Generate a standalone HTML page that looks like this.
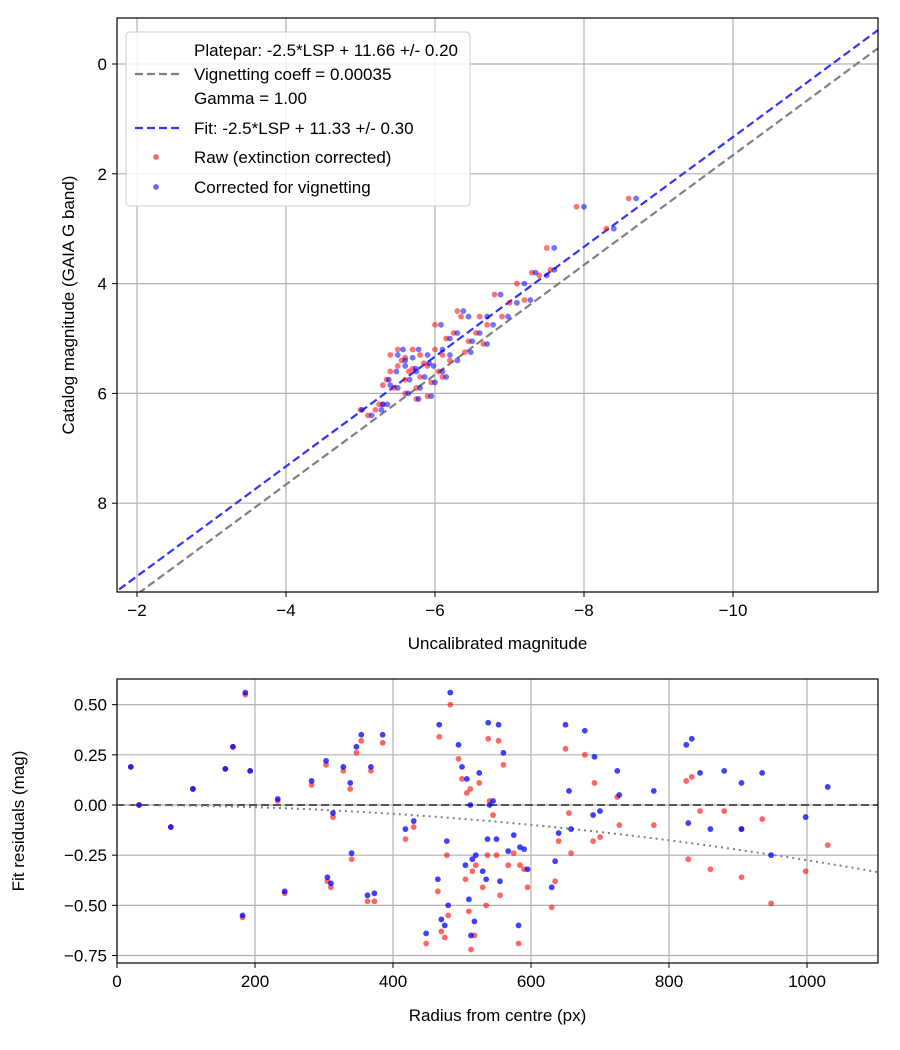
<!DOCTYPE html>
<html><head><meta charset="utf-8">
<style>
body{margin:0;background:#fff;}
svg{display:block;font-family:"Liberation Sans","DejaVu Sans",sans-serif;}
</style></head>
<body>
<svg id="c" width="900" height="1050" viewBox="0 0 900 1050"></svg>
<script>
// ---- top chart data ----
const catMag = [6.3,6.4,6.3,6.2,5.85,5.75,5.3,5.6,5.9,5.5,5.2,5.4,5.35,5.75,5.6,5.2,5.55,5.9,5.3,5.7,5.45,6.05,5.5,5.8,5.2,4.75,5.6,5.3,5.0,5.4,4.9,4.5,4.6,5.25,5.05,4.9,4.6,5.1,4.75,4.2,4.6,4.35,4.0,4.3,3.8,3.85,3.35,3.75,2.6,3.0,2.45,6.2,6.0,5.7,6.1];
const rawMag = [-5.0,-5.1,-5.2,-5.25,-5.3,-5.35,-5.4,-5.4,-5.45,-5.5,-5.5,-5.55,-5.6,-5.6,-5.65,-5.7,-5.7,-5.75,-5.8,-5.8,-5.85,-5.9,-5.9,-5.95,-6.0,-6.0,-6.05,-6.1,-6.15,-6.2,-6.25,-6.3,-6.35,-6.4,-6.45,-6.55,-6.6,-6.65,-6.7,-6.8,-6.9,-7.0,-7.1,-7.2,-7.3,-7.4,-7.5,-7.55,-7.9,-8.3,-8.6,-5.3,-5.6,-6.1,-5.75];
const corrMag = [-5.02,-5.15,-5.28,-5.3,-5.4,-5.38,-5.5,-5.48,-5.5,-5.6,-5.57,-5.6,-5.7,-5.66,-5.75,-5.78,-5.74,-5.8,-5.9,-5.86,-5.92,-5.95,-5.98,-6.0,-6.1,-6.08,-6.1,-6.2,-6.2,-6.3,-6.3,-6.38,-6.45,-6.48,-6.5,-6.6,-6.7,-6.7,-6.78,-6.88,-6.98,-7.1,-7.2,-7.28,-7.35,-7.5,-7.6,-7.6,-8.0,-8.4,-8.7,-5.36,-5.64,-6.15,-5.78];
const topXTicks = [-2,-4,-6,-8,-10];
const topYTicks = [0,2,4,6,8];
const platepar = 11.66, fitZP = 11.33;
// ---- bottom chart data ----
const radius = [20,32,78,110,157,168,182,186,193,233,243,282,303,305,310,313,328,338,340,347,354,363,368,373,385,418,430,448,465,467,470,475,478,480,483,495,500,505,507,510,512,513,515,518,520,525,530,535,537,538,540,545,550,553,555,560,567,575,582,584,590,595,630,635,640,650,655,658,678,690,692,700,725,728,778,825,828,833,845,860,880,905,905,935,948,998,1030];
const resRaw = [0.19,0.0,-0.11,0.08,0.18,0.29,-0.56,0.55,0.17,0.02,-0.44,0.10,0.20,-0.38,-0.41,-0.06,0.17,0.08,-0.27,0.26,0.32,-0.48,0.17,-0.48,0.31,-0.17,-0.11,-0.69,-0.43,0.34,-0.63,-0.66,-0.25,-0.55,0.50,0.23,0.13,-0.37,0.06,-0.53,0.08,-0.72,-0.33,-0.65,-0.30,0.11,-0.41,-0.50,-0.25,0.33,0.02,-0.05,-0.25,0.32,-0.45,0.20,-0.30,-0.24,-0.69,-0.30,-0.32,-0.41,-0.51,-0.38,-0.18,0.28,-0.04,-0.24,0.25,-0.18,0.11,-0.16,0.04,-0.10,-0.10,0.12,-0.27,0.14,-0.03,-0.32,-0.03,-0.36,-0.12,-0.07,-0.49,-0.33,-0.20];
const resCorr = [0.19,0.0,-0.11,0.08,0.18,0.29,-0.55,0.56,0.17,0.03,-0.43,0.12,0.22,-0.36,-0.39,-0.04,0.19,0.11,-0.24,0.29,0.35,-0.45,0.19,-0.44,0.35,-0.12,-0.08,-0.64,-0.37,0.40,-0.57,-0.60,-0.18,-0.50,0.56,0.30,0.19,-0.30,0.13,-0.47,0.00,-0.65,-0.27,-0.58,-0.25,0.16,-0.33,-0.37,-0.17,0.41,0.00,0.02,-0.17,0.40,-0.38,0.26,-0.23,-0.15,-0.60,-0.21,-0.22,-0.32,-0.41,-0.28,-0.14,0.40,0.07,-0.12,0.37,-0.05,0.24,-0.03,0.17,0.05,0.07,0.30,-0.09,0.33,0.16,-0.12,0.17,-0.12,0.11,0.16,-0.25,-0.06,0.09];
const botXTicks = [0,200,400,600,800,1000];
const botYTicks = [0.5,0.25,0,-0.25,-0.5,-0.75];
const botYLabels = ["0.50","0.25","0.00","\u22120.25","\u22120.50","\u22120.75"];
const vigCoeff = 2.75e-7;

const svg = document.getElementById('c');
const NS = 'http://www.w3.org/2000/svg';
function mk(tag, attrs, parent){const e=document.createElementNS(NS,tag);for(const k in attrs)e.setAttribute(k,attrs[k]);(parent||svg).appendChild(e);return e;}
function txt(s, attrs, parent){const e=mk('text',attrs,parent);e.textContent=s;return e;}
const minus = v => (v<0?'\u2212':'')+Math.abs(v);
const PR = 2.9;

// ---- top axes ----
const T = {l:117,r:878,t:18,b:592};
const tx = v => 137 + (-2 - v)*74.5;
const ty = v => 64 + v*54.9;
const gTop = mk('g',{});


mk('defs',{}).innerHTML='<clipPath id="ct"><rect x="117" y="18" width="761" height="574"/></clipPath><clipPath id="cb"><rect x="117" y="679" width="761" height="284"/></clipPath>';
topXTicks.forEach(v=>{
  const x=tx(v);
  const g=mk('line',{x1:x,x2:x,y1:T.t,y2:T.b,stroke:'#b0b0b0','stroke-width':1.2},gTop);
  
  
  mk('line',{x1:x,x2:x,y1:T.b,y2:T.b+5,stroke:'#000'},gTop);
  const t=txt(minus(v),{x:x,y:T.b+24,'font-size':17,'text-anchor':'middle'},gTop);
  
  
});
topYTicks.forEach(v=>{
  const y=ty(v);
  const g=mk('line',{x1:T.l,x2:T.r,y1:y,y2:y,stroke:'#b0b0b0','stroke-width':1.2},gTop);
  
  
  mk('line',{x1:T.l-5,x2:T.l,y1:y,y2:y,stroke:'#000'},gTop);
  const t=txt(String(v),{x:T.l-10,y:y+6,'font-size':17,'text-anchor':'end'},gTop);
  
  
});
const gTopPlot = mk('g',{'clip-path':'url(#ct)'},gTop);
[[platepar,'#808080','platepar-line'],[fitZP,'#3333ff','fit-line']].forEach(([zp,col,name])=>{
  const x0=-1.5,x1=-12.2;
  const l=mk('line',{x1:tx(x0),y1:ty(x0+zp),x2:tx(x1),y2:ty(x1+zp),stroke:col,'stroke-width':2.2,'stroke-dasharray':'8,4'},gTopPlot);
  
  
});
rawMag.forEach((v,i)=>{
  const c=mk('circle',{cx:tx(v),cy:ty(catMag[i]),r:PR,fill:'#ff0000','fill-opacity':0.55},gTopPlot);
  
  
});
corrMag.forEach((v,i)=>{
  const c=mk('circle',{cx:tx(v),cy:ty(catMag[i]),r:PR,fill:'#0000ff','fill-opacity':0.55},gTopPlot);
  
  
});
mk('rect',{x:T.l,y:T.t,width:T.r-T.l,height:T.b-T.t,fill:'none',stroke:'#000','stroke-width':1.2},gTop);
const xl1=txt('Uncalibrated magnitude',{x:(T.l+T.r)/2,y:649,'font-size':17,'text-anchor':'middle'},gTop);


const yl1=txt('Catalog magnitude (GAIA G band)',{x:0,y:0,'font-size':17,'text-anchor':'middle',transform:'translate(74,305) rotate(-90)'},gTop);



// legend
const lg=mk('g',{},gTop);


mk('rect',{x:126,y:32,width:344,height:174,rx:4,fill:'#fff','fill-opacity':0.85,stroke:'#ccc'},lg);
const legItems=[
  ['Platepar: -2.5*LSP + 11.66 +/- 0.20',56,null],
  ['Vignetting coeff = 0.00035',80,'grey'],
  ['Gamma = 1.00',104,null],
  ['Fit: -2.5*LSP + 11.33 +/- 0.30',134,'blue'],
  ['Raw (extinction corrected)',163,'red'],
  ['Corrected for vignetting',193,'bluedot']
];
legItems.forEach(([s,y,m])=>{
  const t=txt(s,{x:194,y:y,'font-size':17},lg);
  
  
  const cy=y-6;
  if(m==='grey') mk('line',{x1:135,x2:183,y1:cy,y2:cy,stroke:'#808080','stroke-width':2.2,'stroke-dasharray':'8,4'},lg);
  if(m==='blue') mk('line',{x1:135,x2:183,y1:cy,y2:cy,stroke:'#3333ff','stroke-width':2.2,'stroke-dasharray':'8,4'},lg);
  if(m==='red') mk('circle',{cx:156,cy:cy,r:PR,fill:'#ff0000','fill-opacity':0.6},lg);
  if(m==='bluedot') mk('circle',{cx:156,cy:cy,r:PR,fill:'#0000ff','fill-opacity':0.6},lg);
});

// ---- bottom axes ----
const B = {l:117,r:878,t:679,b:963};
const bx = v => 117 + v*0.69;
const by = v => 805 - v*200.7;
const gBot = mk('g',{});


botXTicks.forEach(v=>{
  const x=bx(v);
  const g=mk('line',{x1:x,x2:x,y1:B.t,y2:B.b,stroke:'#b0b0b0','stroke-width':1.2},gBot);
  
  
  mk('line',{x1:x,x2:x,y1:B.b,y2:B.b+5,stroke:'#000'},gBot);
  const t=txt(String(v),{x:x,y:B.b+24,'font-size':17,'text-anchor':'middle'},gBot);
  
  
});
botYTicks.forEach((v,i)=>{
  const y=by(v);
  const g=mk('line',{x1:B.l,x2:B.r,y1:y,y2:y,stroke:'#b0b0b0','stroke-width':1.2},gBot);
  
  
  mk('line',{x1:B.l-5,x2:B.l,y1:y,y2:y,stroke:'#000'},gBot);
  const t=txt(botYLabels[i],{x:B.l-10,y:y+6,'font-size':17,'text-anchor':'end'},gBot);
  
  
});
const gBotPlot = mk('g',{'clip-path':'url(#cb)'},gBot);
const zl=mk('line',{x1:B.l,x2:B.r,y1:by(0),y2:by(0),stroke:'#555','stroke-width':2,'stroke-dasharray':'8,4'},gBotPlot);


let d='';
for(let r=0;r<=1110;r+=10){d+=(r?'L':'M')+bx(r).toFixed(1)+','+by(-vigCoeff*r*r).toFixed(1);}
const vl=mk('path',{d:d,fill:'none',stroke:'#808080','stroke-width':2,'stroke-dasharray':'2,4'},gBotPlot);


radius.forEach((v,i)=>{
  const c=mk('circle',{cx:bx(v),cy:by(resRaw[i]),r:PR,fill:'#ff0000','fill-opacity':0.6},gBotPlot);
  
  
});
radius.forEach((v,i)=>{
  const c=mk('circle',{cx:bx(v),cy:by(resCorr[i]),r:PR,fill:'#0000ff','fill-opacity':0.75},gBotPlot);
  
  
});
mk('rect',{x:B.l,y:B.t,width:B.r-B.l,height:B.b-B.t,fill:'none',stroke:'#000','stroke-width':1.2},gBot);
const xl2=txt('Radius from centre (px)',{x:(B.l+B.r)/2,y:1021,'font-size':17,'text-anchor':'middle'},gBot);


const yl2=txt('Fit residuals (mag)',{x:0,y:0,'font-size':17,'text-anchor':'middle',transform:'translate(24,821) rotate(-90)'},gBot);


</script>
</body></html>
